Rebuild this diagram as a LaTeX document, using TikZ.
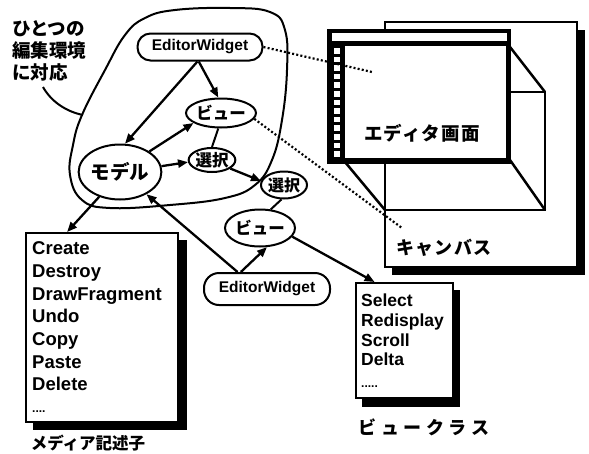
\documentclass[tikz,border=0pt]{standalone}
\usepackage{fontspec}
\setmainfont{Liberation Sans}
\newfontfamily\jp{Noto Sans CJK JP}
\usetikzlibrary{shapes.geometric,arrows.meta}
\begin{document}
\begin{tikzpicture}[x=1pt,y=-1pt,
  lw/.style={line width=2pt},
  arr/.style={line width=2.3pt,-{Triangle[length=10pt,width=8pt]}},
  link/.style={line width=2pt},
  dotl/.style={line width=2.2pt,dash pattern=on 2pt off 2.2pt},
  ewbox/.style={draw,line width=2pt,rounded corners=13pt,minimum width=125pt,minimum height=27pt,inner sep=0pt,font=\bfseries\fontsize{15.5}{15.5}\selectfont},
  ell/.style={draw,ellipse,line width=2pt,inner sep=0pt,fill=white,font=\jp\bfseries\fontsize{16.5}{16.5}\selectfont},
  listbox/.style={draw,line width=1.5pt,fill=white,inner sep=0pt,anchor=north west},
  listtxt/.style={anchor=base west,inner sep=0pt,font=\bfseries\fontsize{18.5}{18.5}\selectfont},
  vctxt/.style={anchor=base west,inner sep=0pt,font=\bfseries\fontsize{17.5}{17.5}\selectfont},
  jplabel/.style={inner sep=0pt,font=\jp\bfseries\fontsize{16}{16}\selectfont},
]
\useasboundingbox (0,0) rectangle (589,453);

% ---- canvas window ----
\fill (392,30) rectangle (585,275);
\draw[line width=1.5pt,fill=white] (385,22) rectangle (577,267);
\draw[line width=1.5pt] (385,92) rectangle (545,210);
\draw[line width=2.5pt] (510,47) -- (545,92);
\draw[line width=2.5pt] (510,160) -- (545,210);
\draw[line width=2.5pt] (345,162) -- (385,210);
% ---- editor window ----
\fill (327,29) rectangle (511,164);
\fill[white] (332,33) rectangle (507,41);
\fill[white] (345,46) rectangle (506,158);
\foreach \i in {0,...,12} \fill[white] (334,{48+8.6*\i}) rectangle (340,{53.5+8.6*\i});
\node[jplabel,font=\jp\bfseries\fontsize{18.5}{18.5}\selectfont\addfontfeature{LetterSpace=6}] (edlab) at (422,133) {エディタ画面};
\node[jplabel,font=\jp\bfseries\fontsize{18}{18}\selectfont\addfontfeature{LetterSpace=8}] (cvlab) at (444,248) {キャンバス};

% ---- blob ----
\draw[lw] plot[smooth cycle, tension=0.7] coordinates {(145,18) (175,10) (230,8) (270,12) (285,30) (287,70) (282,120) (272,160) (255,185) (225,198) (170,205) (110,208) (82,200) (70,175) (73,145) (82,115) (105,70) (125,35)};
\coordinate (lb) at (43,87);
\coordinate (lbe) at (83,115);
\draw[lw] (lb) .. controls (52,103) and (68,112) .. (lbe);
\node[anchor=north west,align=left,inner sep=0pt,font=\jp\bfseries\fontsize{18.5}{22}\selectfont] (lab) at (12,20) {ひとつの\\編集環境\\に対応};

% ---- nodes ----
\node[ewbox] (ew1) at (200,47) {EditorWidget};
\node[ell,minimum width=58pt,minimum height=29pt] (v1) at (221,113) {ビュー};
\node[ell,minimum width=43pt,minimum height=24pt] (s1) at (212,160) {選択};
\node[ell,minimum width=76pt,minimum height=55pt,font=\jp\bfseries\fontsize{19.5}{19.5}\selectfont] (m) at (120,172) {モデル};
\node[ell,minimum width=46pt,minimum height=27pt,font=\jp\bfseries\fontsize{16}{16}\selectfont] (s2) at (284,185) {選択};
\node[ell,minimum width=59pt,minimum height=37pt] (v2) at (260,228) {ビュー};
\node[ewbox,minimum width=126pt,minimum height=32pt,rounded corners=15pt] (ew2) at (267,289) {EditorWidget};

% ---- media descriptor box ----
\fill (33,240) rectangle (187,430);
\node[listbox,minimum width=152pt,minimum height=189pt] (md) at (25,232) {};
\node[listtxt] (c1) at (32,254.5) {Create};
\node[listtxt] (c2) at (32,277.5) {Destroy};
\node[listtxt] (c3) at (32,300) {DrawFragment};
\node[listtxt] (c4) at (32,322.5) {Undo};
\node[listtxt] (c5) at (32,345) {Copy};
\node[listtxt] (c6) at (32,368) {Paste};
\node[listtxt] (c7) at (32,390) {Delete};
\node[listtxt,font=\bfseries\fontsize{12}{12}\selectfont] (c8) at (32,412) {....};
\node[jplabel,font=\jp\bfseries\fontsize{16.5}{16.5}\selectfont] (mdlab) at (88,443) {メディア記述子};

% ---- view class box ----
\fill (362,290) rectangle (460,407);
\node[listbox,minimum width=97pt,minimum height=115pt] (vc) at (355,282) {};
\node[vctxt] (d1) at (361,306.5) {Select};
\node[vctxt] (d2) at (361,326.5) {Redisplay};
\node[vctxt] (d3) at (361,346.5) {Scroll};
\node[vctxt] (d4) at (361,365.5) {Delta};
\node[vctxt,font=\bfseries\fontsize{12}{12}\selectfont] (d5) at (361,387) {.....};
\node[jplabel,font=\jp\bfseries\fontsize{18}{18}\selectfont\addfontfeature{LetterSpace=25}] (vclab) at (424,427) {ビュークラス};

% ---- connectors ----
\draw[arr] (ew1.-95) -- (v1.100);
\draw[arr] (ew1.-100) -- (m.80);
\draw[arr] (m.35) -- (v1.200);
\draw[arr] (m.8) -- (s1.185);
\draw[link] (v1.-100) -- (s1.north);
\draw[arr] (s1.-25) -- (s2.170);
\draw[link] (s2.-100) -- (v2.60);
\draw[arr] (m.-130) -- (md.110);
\draw[arr] (ew2.150) -- (m.-40);
\draw[arr] (ew2.147) -- (v2.-70);
\draw[arr] (v2.-15) -- (vc.117);

% ---- dotted correspondences ----
\coordinate (p1) at (372,72);
\coordinate (p2) at (402,228);
\draw[dotl] (ew1.east) -- (p1);
\draw[dotl] (v1.-10) -- (p2);
\end{tikzpicture}
\end{document}
